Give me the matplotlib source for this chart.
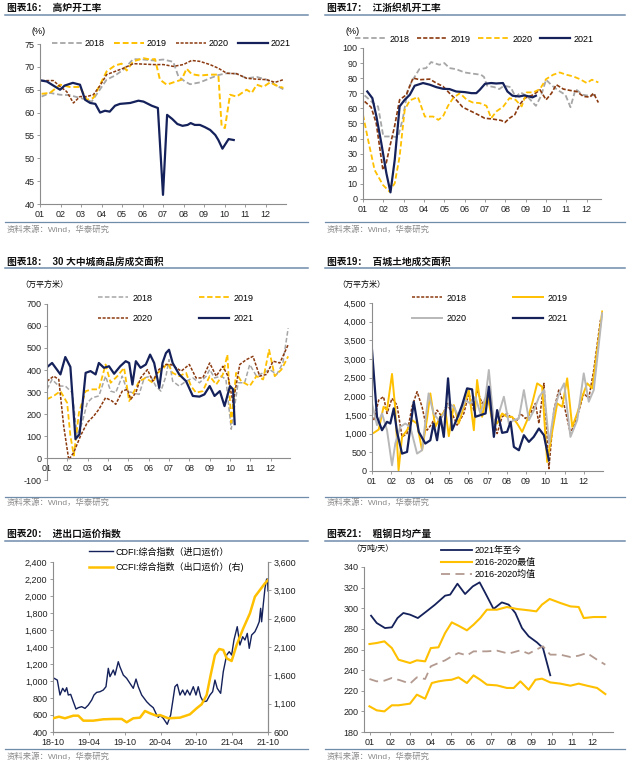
import matplotlib
matplotlib.use("Agg")
import matplotlib.pyplot as plt
from matplotlib.lines import Line2D
from matplotlib.ticker import FuncFormatter

plt.rcParams['font.family'] = ['Liberation Sans', 'Noto Sans CJK SC', 'DejaVu Sans']
plt.rcParams['axes.unicode_minus'] = False

# ---------------- 数据 ----------------
months = ['01', '02', '03', '04', '05', '06', '07', '08', '09', '10', '11', '12']
source = '资料来源：Wind，华泰研究'

# 图表16 高炉开工率 (%)
bf18_x = [1.08, 1.49, 1.98, 2.46, 2.95, 3.28, 3.52, 3.93, 4.25, 4.66, 5.07, 5.55, 6.04, 6.53, 7.02, 7.5, 7.75,
          8.07, 8.32, 8.8, 9.29, 9.7, 10.11, 10.59, 11.08, 11.57, 12.06, 12.54, 12.87]
bf18_y = [63.5, 64.3, 63.9, 63.8, 63.2, 62.8, 62.4, 65.1, 67.2, 68.1, 69.4, 71.7, 71.6, 71.4, 71.6, 71.1, 67.9,
          66.8, 66.2, 66.6, 67.5, 68.2, 68.6, 68.5, 67.5, 67.8, 67.2, 65.9, 65.1]
bf19_x = [1.08, 1.49, 1.98, 2.46, 2.95, 3.28, 3.6, 3.93, 4.25, 4.66, 4.98, 5.23, 5.55, 6.04, 6.37, 6.61, 6.85,
          7.18, 7.5, 7.91, 8.15, 8.4, 8.8, 9.29, 9.7, 9.86, 10.02, 10.27, 10.59, 11.08, 11.33, 11.57, 11.89,
          12.22, 12.54, 12.87]
bf19_y = [64.1, 64.3, 66.1, 65.6, 65.6, 62.8, 63.2, 66.1, 69.0, 70.3, 70.7, 69.2, 71.2, 71.9, 71.6, 71.7, 67.2,
          66.1, 66.6, 67.2, 69.6, 68.4, 68.1, 68.3, 68.3, 57.0, 56.6, 63.9, 63.5, 65.0, 64.3, 66.1, 65.6,
          66.6, 65.9, 65.4]
bf20_x = [1.08, 1.65, 1.98, 2.3, 2.63, 2.95, 3.28, 3.6, 3.93, 4.25, 4.66, 5.07, 5.55, 6.04, 6.53, 7.02, 7.5,
          7.99, 8.4, 8.8, 9.29, 9.7, 10.11, 10.59, 11.08, 11.57, 12.06, 12.46, 12.87]
bf20_y = [67.0, 67.0, 65.7, 64.6, 62.1, 63.5, 63.5, 63.9, 65.9, 68.3, 69.0, 69.7, 70.7, 70.6, 70.5, 70.5, 70.1,
          70.5, 71.4, 71.2, 70.5, 69.7, 68.6, 68.5, 67.5, 67.3, 67.2, 66.6, 67.2]
bf21_x = [1.08, 1.33, 1.98, 2.2, 2.6, 2.95, 3.2, 3.45, 3.7, 3.93, 4.17, 4.4, 4.66, 4.9, 5.4, 5.8, 6.05, 6.45,
          6.75, 7.0, 7.2, 7.45, 7.7, 7.95, 8.2, 8.35, 8.55, 8.8, 9.05, 9.3, 9.55, 9.7, 9.9, 10.2, 10.45]
bf21_y = [67.0, 66.8, 65.0, 65.9, 66.5, 66.1, 62.8, 62.1, 61.9, 60.0, 60.4, 60.2, 61.5, 61.9, 62.1, 62.6, 62.4,
          61.5, 61.0, 42.0, 59.5, 58.6, 57.5, 57.1, 57.3, 57.7, 57.3, 57.3, 56.8, 56.2, 55.1, 54.0, 52.1,
          54.2, 54.0]

# 图表17 江浙织机开工率 (%)
cz18_x = [1.08, 1.5, 1.74, 2.0, 2.4, 2.72, 2.96, 3.2, 3.45, 3.77, 4.1, 4.35, 4.75, 5.0, 5.25, 5.57, 6.0, 6.4,
          6.8, 6.95, 7.1, 7.45, 7.7, 7.93, 8.26, 8.5, 8.75, 9.08, 9.5, 9.74, 10.0, 10.3, 10.6, 10.95, 11.2,
          11.45, 11.8, 12.1, 12.45]
cz18_y = [68.6, 63.5, 61.3, 41.4, 41.4, 40.9, 53.5, 72.3, 79, 86, 86.7, 90.7, 88.9, 90, 86.7, 86, 83.8, 83,
          82.3, 80.8, 75, 74.1, 72.8, 75, 74.1, 67.5, 70.6, 67.9, 61.7, 67.9, 79, 75, 71.9, 69, 60.8,
          72.8, 69, 68.4, 69]
cz19_x = [1.08, 1.4, 1.65, 1.98, 2.14, 2.3, 2.55, 2.8, 3.13, 3.46, 3.79, 4.28, 4.6, 4.93, 5.25, 5.58, 5.9,
          6.33, 6.66, 6.98, 7.4, 7.8, 7.98, 8.2, 8.46, 8.7, 8.95, 9.37, 9.7, 10.0, 10.27, 10.5, 10.85, 11.18,
          11.5, 11.84, 12.16, 12.33, 12.57]
cz19_y = [64.6, 60.8, 50.2, 19.2, 23.7, 33.6, 48, 65.7, 69, 80.1, 79, 79.4, 76.8, 74.6, 70.1, 65.7, 60.8,
          58, 55.8, 53.5, 52.9, 52, 50.7, 53.5, 55.8, 62.4, 66.8, 69, 72.3, 65.7, 70.1, 75.7, 72.8, 71.9,
          71.2, 67.9, 67.5, 70.1, 63.9]
cz20_x = [1.0, 1.25, 1.57, 1.98, 2.3, 2.56, 2.8, 3.05, 3.3, 3.7, 4.04, 4.45, 4.7, 4.93, 5.18, 5.43, 5.76,
          6.1, 6.4, 6.74, 7.07, 7.3, 7.56, 7.9, 8.2, 8.5, 8.8, 9.05, 9.37, 9.7, 10.0, 10.35, 10.67, 11.0,
          11.33, 11.66, 12.0, 12.25, 12.57]
cz20_y = [55.8, 39.2, 19.2, 9.3, 4.9, 10.4, 28.1, 59, 65.3, 67.5, 54.6, 54.6, 52.4, 54.6, 61.7, 66.8, 70.1,
          65.7, 63.9, 63.5, 61.7, 53.5, 58, 61.3, 66.8, 65.7, 61.3, 70.6, 70.6, 72.8, 79.4, 82.3, 83.8, 82.3,
          81.2, 79.4, 76.8, 79, 77.2]
cz21_x = [1.21, 1.46, 1.66, 1.9, 2.15, 2.35, 2.56, 2.8, 3.05, 3.3, 3.54, 3.95, 4.28, 4.6, 4.93, 5.25, 5.58,
          6.0, 6.33, 6.57, 6.74, 7.0, 7.3, 7.55, 7.88, 8.1, 8.35, 8.68, 8.93, 9.17, 9.33, 9.5]
cz21_y = [71.2, 66.8, 54.6, 37, 17, 4.4, 25.9, 61.3, 65.7, 69, 75, 76.8, 75.7, 74.1, 73, 72.8, 71.2,
          70.8, 70.1, 70.1, 72.3, 76.3, 76.8, 76.5, 76.8, 71.2, 68.4, 67.9, 68.6, 67.9, 67.3, 68.4]

# 图表18 30大中城商品房成交面积 (万平方米)
fa18_x = [1.0, 1.25, 1.58, 1.9, 2.24, 2.48, 2.73, 2.98, 3.23, 3.55, 3.88, 4.13, 4.38, 4.7, 4.95, 5.2, 5.53,
          5.78, 6.1, 6.35, 6.6, 6.85, 7.0, 7.18, 7.5, 7.84, 8.17, 8.5, 8.83, 9.0, 9.24, 9.57, 9.8, 10.06,
          10.4, 10.72, 10.97, 11.3, 11.63, 11.95, 12.3, 12.6, 12.86]
fa18_y = [312, 357, 327, 327, 297, 101, 161, 251, 274, 282, 372, 304, 297, 372, 304, 297, 289,
          364, 372, 327, 304, 372, 447, 349, 327, 349, 364, 342, 372, 402, 364, 372, 357, 131,
          342, 342, 425, 372, 387, 402, 380, 432, 590]
fa19_x = [1.0, 1.33, 1.66, 1.99, 2.15, 2.32, 2.57, 2.9, 3.23, 3.55, 3.88, 4.13, 4.46, 4.79, 5.04, 5.29, 5.53,
          5.86, 6.2, 6.44, 6.68, 6.93, 7.18, 7.5, 7.84, 8.08, 8.33, 8.66, 9.0, 9.32, 9.65, 9.87, 10.06,
          10.3, 10.55, 10.97, 11.3, 11.63, 11.92, 12.2, 12.53, 12.86]
fa19_y = [267, 282, 304, 251, 101, 11, 206, 304, 312, 312, 425, 342, 372, 410, 259, 304, 349,
          364, 342, 387, 402, 432, 387, 372, 387, 327, 297, 304, 372, 334, 380, 470, 161,
          387, 349, 327, 372, 357, 492, 372, 402, 462]
fa20_x = [1.0, 1.33, 1.58, 1.82, 2.07, 2.32, 2.65, 2.98, 3.3, 3.55, 3.88, 4.2, 4.38, 4.7, 4.95, 5.12, 5.37,
          5.6, 5.94, 6.2, 6.5, 6.85, 7.1, 7.35, 7.6, 8.0, 8.33, 8.66, 9.0, 9.32, 9.65, 9.9, 10.15, 10.48,
          10.8, 11.13, 11.46, 11.8, 12.12, 12.45, 12.86]
fa20_y = [349, 372, 357, 146, -8, 26, 101, 161, 191, 221, 274, 259, 244, 304, 312, 267, 297,
          364, 402, 349, 402, 425, 425, 410, 395, 425, 364, 364, 432, 372, 417, 372, 251, 425,
          447, 462, 372, 380, 440, 432, 515]
fa21_x = [1.0, 1.25, 1.66, 1.9, 2.15, 2.4, 2.6, 2.9, 3.14, 3.39, 3.55, 3.8, 4.05, 4.3, 4.6, 4.87, 5.04, 5.2,
          5.37, 5.6, 5.86, 6.07, 6.27, 6.52, 6.68, 6.85, 7.0, 7.18, 7.5, 7.84, 8.17, 8.5, 8.74, 9.0, 9.24,
          9.5, 9.73, 10.0, 10.15, 10.23]
fa21_y = [413, 432, 380, 459, 414, 86, 108, 387, 395, 380, 432, 410, 417, 383, 417, 440, 432, 334,
          440, 410, 425, 470, 432, 319, 432, 477, 492, 432, 380, 349, 282, 279, 289, 327, 282,
          304, 236, 327, 312, 154]

# 图表19 百城土地成交面积 (万平方米)
td18_x = [1.09, 1.35, 1.6, 1.78, 2.04, 2.3, 2.56, 2.82, 3.08, 3.34, 3.6, 3.86, 4.12, 4.38, 4.64, 4.9, 5.16,
          5.42, 5.77, 6.03, 6.29, 6.46, 6.72, 6.98, 7.24, 7.5, 7.76, 8.02, 8.28, 8.54, 8.71, 8.97, 9.23,
          9.49, 9.67, 9.93, 10.19, 10.45, 10.7, 10.96, 11.31, 11.66, 12.0, 12.26, 12.52, 12.87]
td18_y = [1362, 1900, 1989, 1541, 1945, 1765, 914, 1003, 1720, 2124, 1720, 1093, 1272, 1631, 1452, 1810, 1541,
          1228, 1541, 2079, 1631, 2168, 1810, 1989, 1541, 1003, 1452, 1541, 1407, 1362, 1541, 1407, 1541,
          1810, 1272, 2348, 63, 1631, 2168, 1810, 1003, 1452, 2079, 1945, 2706, 4050]
td19_x = [1.09, 1.35, 1.6, 1.78, 2.04, 2.2, 2.38, 2.56, 2.82, 3.08, 3.34, 3.6, 3.86, 4.03, 4.29, 4.55, 4.81,
          4.99, 5.25, 5.5, 5.77, 6.03, 6.29, 6.46, 6.72, 6.98, 7.24, 7.5, 7.76, 8.02, 8.28, 8.54, 8.8,
          9.06, 9.32, 9.58, 9.84, 10.1, 10.36, 10.62, 10.88, 11.14, 11.4, 11.66, 11.92, 12.18, 12.44, 12.96]
td19_y = [1022, 1111, 1720, 1631, 2599, 1720, 18, 914, 1093, 1362, 1272, 556, 1407, 2079, 1183, 1452, 1631,
          932, 1765, 1272, 1720, 2168, 1093, 2437, 1452, 2079, 1362, 1272, 1541, 1452, 1452, 1272, 1048,
          1362, 1810, 2348, 2258, 242, 1048, 1810, 1720, 2482, 1183, 1541, 1989, 2348, 2213, 4274]
td20_x = [1.0, 1.26, 1.52, 1.78, 2.04, 2.21, 2.47, 2.73, 2.99, 3.34, 3.6, 3.94, 4.2, 4.47, 4.73, 4.99, 5.25,
          5.5, 5.85, 6.1, 6.37, 6.63, 6.9, 7.07, 7.33, 7.59, 7.85, 8.11, 8.37, 8.63, 8.89, 9.15, 9.42,
          9.68, 9.94, 10.2, 10.46, 10.72, 10.98, 11.31, 11.66, 12.0, 12.26, 12.52, 12.96]
td20_y = [1810, 1228, 1541, 1093, 152, 735, 1183, 1272, 1183, 466, 556, 2079, 1541, 1362, 1541, 1810, 1720,
          1452, 1900, 1810, 1989, 1541, 1989, 2706, 1272, 1541, 1989, 1272, 1362, 1407, 2168, 1362, 1631,
          1989, 2168, 735, 1631, 2079, 2348, 914, 1362, 2616, 1855, 2168, 4229]
td21_x = [1.0, 1.26, 1.52, 1.78, 1.95, 2.13, 2.3, 2.56, 2.82, 3.17, 3.43, 3.77, 4.03, 4.2, 4.38, 4.55, 4.73,
          4.95, 5.16, 5.42, 5.68, 5.94, 6.2, 6.37, 6.63, 6.9, 7.07, 7.33, 7.5, 7.76, 8.02, 8.2, 8.37,
          8.63, 8.89, 9.15, 9.4, 9.67, 9.93, 10.19]
td21_y = [3244, 1452, 1093, 1317, 1272, 1676, 1048, 466, 511, 1855, 1048, 735, 824, 1272, 824, 1452, 914,
          2482, 1093, 1407, 1765, 2213, 2186, 1452, 1496, 1541, 2258, 914, 1631, 1022, 1048, 1317, 645,
          556, 959, 780, 914, 1138, 959, 287]

# 图表20 进出口运价指数 (横轴: 自2018-10起的月数)
freight_ticks = [0, 6, 12, 18, 24, 30, 36]
freight_labels = ['18-10', '19-04', '19-10', '20-04', '20-10', '21-04', '21-10']
cdfi_t = [0, 0.72, 1.17, 1.62, 2.0, 2.29, 2.56, 2.96, 3.4, 3.85, 4.24, 4.8, 5.36, 5.91, 6.48, 6.86,
          7.31, 7.87, 8.42, 8.87, 9.26, 9.54, 10.1, 10.38, 10.93, 11.2, 11.77, 12.34, 12.89, 13.44, 13.9,
          14.28, 14.85, 15.69, 16.24, 16.79, 17.36, 17.63, 17.9, 18.47, 19.13, 19.7, 20.04, 20.42, 20.81,
          21.26, 21.71, 22.1, 22.48, 22.93, 23.49, 23.94, 24.32, 24.72, 25.16, 25.73, 26.28, 26.73, 27.12,
          27.5, 28.07, 28.51, 29.08, 29.51, 29.91, 30.3, 30.85, 31.3, 31.76, 32.14, 32.53, 32.86, 33.26,
          33.81, 34.2, 34.53, 34.77, 34.93, 35.2, 35.49, 35.77, 35.92, 36.0]
cdfi_v = [1039, 1011, 835, 914, 874, 921, 835, 843, 756, 670, 686, 698, 678, 717, 776, 835,
          866, 874, 894, 933, 1149, 1051, 1129, 1070, 1227, 1168, 1070, 1031, 972, 914, 1023,
          933, 835, 756, 717, 686, 600, 572, 600, 561, 490, 600, 756, 933, 961,
          835, 894, 835, 894, 835, 933, 835, 933, 815, 756, 764, 835, 874, 1011,
          914, 855, 1109, 1306, 1345, 1306, 1482, 1639, 1423, 1521, 1482, 1560, 1384, 1541,
          1580, 1639, 1697, 1855, 1697, 1894, 2090, 2199, 2199, 2060]
ccfi_t = [0, 1.0, 2.0, 3.4, 4.24, 5.08, 6.75, 8.42, 10.1, 11.5, 12.34, 13.44, 14.56, 15.4, 16.24, 17.36,
          17.9, 19.3, 21.26, 22.93, 24.05, 24.89, 25.73, 26.4, 27.12, 27.84, 28.51, 29.08, 29.91, 30.75,
          31.86, 32.98, 33.81, 34.65, 35.49, 36.0]
ccfi_v = [842, 870, 842, 888, 888, 800, 800, 824, 830, 830, 771, 842, 853, 971, 930, 886,
          900, 842, 853, 912, 1018, 1089, 1253, 1606, 1959, 2065, 2047, 1900, 1853, 2136,
          2430, 2695, 2988, 3106, 3224, 3282]

# 图表21 粗钢日均产量 (万吨/天)
cs21_x = [1.05, 1.33, 1.74, 2.08, 2.36, 2.65, 2.98, 3.37, 3.8, 4.22, 4.72, 4.97, 5.33, 5.71, 6.09, 6.43,
          6.71, 7.12, 7.53, 7.87, 8.2, 8.53, 8.86, 9.27, 9.57, 9.93]
cs21_y = [292.8, 285.7, 280.8, 281.5, 290.5, 295.4, 293.8, 290.5, 297, 303.5, 312.2, 313.2, 323.8, 313.8,
          321.2, 325.1, 314.8, 299.3, 305.7, 303.5, 295.4, 280.8, 272.8, 266.9, 261.4, 235]
csmax_x = [0.97, 1.33, 1.71, 2.08, 2.41, 2.98, 3.32, 3.73, 4.01, 4.39, 4.72, 5.05, 5.38, 5.8, 6.13, 6.46,
           6.79, 7.29, 7.78, 8.28, 8.86, 9.24, 9.52, 9.9, 10.43, 10.93, 11.34, 11.59, 12.08, 12.66]
csmax_y = [265.3, 266.3, 267.9, 261.4, 250.1, 246.9, 249.5, 248.5, 261.4, 262.1, 276, 286.3, 283.1, 278.6,
           284.1, 290.5, 298.6, 298.6, 301.2, 299.3, 298, 297, 303.5, 309, 305.1, 301.8, 301.2, 290.5,
           291.5, 291.5]
csmin_x = [0.97, 1.33, 1.71, 2.08, 2.41, 2.98, 3.32, 3.73, 4.06, 4.39, 4.72, 5.05, 5.38, 5.8, 6.13, 6.46,
           6.79, 7.29, 7.78, 8.12, 8.45, 8.86, 9.2, 9.52, 9.93, 10.43, 10.93, 11.34, 11.75, 12.25, 12.66]
csmin_y = [204.9, 201, 200, 205.9, 205.9, 207.5, 216.2, 212.3, 227.5, 229.1, 230.1, 230.7, 233, 227.5,
           234.9, 230.7, 225.9, 225.2, 222.7, 222.7, 229.1, 221, 230.7, 231.7, 228.1, 226.9, 224.9,
           226.9, 224.9, 222.7, 216.8]
csavg_x = [0.97, 1.33, 1.71, 2.08, 2.5, 2.98, 3.32, 3.73, 4.01, 4.39, 4.72, 5.05, 5.38, 5.8, 6.13, 6.79,
           7.29, 7.87, 8.45, 8.86, 9.24, 9.57, 9.93, 10.43, 10.93, 11.34, 11.75, 12.25, 12.66]
csavg_y = [231.4, 229.1, 229.8, 232.4, 230.1, 226.9, 233, 231.4, 243.7, 246.9, 249.5, 253.4, 256.6, 254.3,
           258.2, 258.2, 258.9, 256, 259.2, 256, 259.9, 263.1, 255, 255, 252.7, 254, 256.6, 250.1, 245.3]

# ---------------- 样式 ----------------
NAVY = '#14215a'
YELLOW = '#ffc000'
GREY = '#a6a6a6'
BROWN = '#8b3a0f'
ROSE = '#b39a90'
AXC = '#8c8c8c'
RULE = '#6f8cab'
FS = 6.5

W, H = 640, 774
fig = plt.figure(figsize=(W / 100, H / 100), dpi=100)


def px_axes(left, top, right, bottom):
    return fig.add_axes([left / W, 1 - bottom / H, (right - left) / W, (bottom - top) / H])


def fig_text(x, y, s, **kw):
    fig.text(x / W, 1 - y / H, s, va='center', **kw)


def hline(x0, x1, y, lw=1.0):
    fig.add_artist(Line2D([x0 / W, x1 / W], [1 - y / H, 1 - y / H], color=RULE, lw=lw,
                          transform=fig.transFigure))


def frame(x0, x1, y_title, y_rule, y_src_rule, y_src, title):
    fig_text(x0 + 2, y_title, title, fontsize=7, fontweight='bold', color='#111111')
    hline(x0, x1, y_rule, 1.1)
    hline(x0, x1, y_src_rule, 0.9)
    fig_text(x0 + 2, y_src, source, fontsize=6, color='#8a8a8a')


def style(ax, right=False):
    ax.spines['top'].set_visible(False)
    ax.spines['right'].set_visible(right)
    for s in ['left', 'bottom', 'right']:
        ax.spines[s].set_color(AXC)
        ax.spines[s].set_linewidth(0.8)
    ax.tick_params(labelsize=FS, length=2, width=0.6, color=AXC, labelcolor='#222222', pad=2)
    ax.set_facecolor('none')


def month_axis(ax, x0, x1):
    ax.set_xlim(x0, x1)
    ax.set_xticks(range(1, 13))
    ax.set_xticklabels(months)


def legend_at(ax, handles, labels, x, y, ncol, **kw):
    ax.legend(handles, labels, loc='center left', bbox_to_anchor=(x / W, 1 - y / H),
              bbox_transform=fig.transFigure, ncol=ncol, frameon=False, fontsize=FS,
              borderpad=0, borderaxespad=0, **kw)


comma = FuncFormatter(lambda v, p: f'{v:,.0f}')

# ---------- 图表16 ----------
frame(5, 308, 8, 15, 222, 230, '图表16：  高炉开工率')
ax = px_axes(40, 44, 286, 204)
style(ax)
h1, = ax.plot(bf18_x, bf18_y, color=GREY, lw=1.3, dashes=(3, 1.5))
h2, = ax.plot(bf19_x, bf19_y, color=YELLOW, lw=1.4, dashes=(3, 1.5))
h3, = ax.plot(bf20_x, bf20_y, color=BROWN, lw=1.1, dashes=(2, 1))
h4, = ax.plot(bf21_x, bf21_y, color=NAVY, lw=1.6)
month_axis(ax, 1, 13)
ax.set_ylim(40, 75)
ax.set_yticks(range(40, 76, 5))
fig_text(31, 31, '(%)', fontsize=FS)
legend_at(ax, [h1, h2, h3, h4], ['2018', '2019', '2020', '2021'], 52, 44, 4,
          handlelength=3.3, handletextpad=0.35, columnspacing=1.0)

# ---------- 图表17 ----------
frame(325, 625, 8, 15, 222, 230, '图表17：  江浙织机开工率')
ax = px_axes(363, 48, 601, 199)
style(ax)
h1, = ax.plot(cz18_x, cz18_y, color=GREY, lw=1.3, dashes=(3, 1.5))
h2, = ax.plot(cz19_x, cz19_y, color=BROWN, lw=1.2, dashes=(2.5, 1.2))
h3, = ax.plot(cz20_x, cz20_y, color=YELLOW, lw=1.3, dashes=(3, 1.5))
h4, = ax.plot(cz21_x, cz21_y, color=NAVY, lw=1.6)
month_axis(ax, 1, 12.7)
ax.set_ylim(0, 100)
ax.set_yticks(range(0, 101, 10))
fig_text(346, 31, '(%)', fontsize=FS)
legend_at(ax, [h1, h2, h3, h4], ['2018', '2019', '2020', '2021'], 355, 39, 4,
          handlelength=3.4, handletextpad=0.4, columnspacing=0.8)

# ---------- 图表18 ----------
frame(5, 308, 262, 268, 497, 503, '图表18：  30 大中城商品房成交面积')
ax = px_axes(47, 304, 290, 480)
style(ax)
h1, = ax.plot(fa18_x, fa18_y, color=GREY, lw=1.1, dashes=(3, 1.5))
h2, = ax.plot(fa19_x, fa19_y, color=YELLOW, lw=1.3, dashes=(3, 1.5))
h3, = ax.plot(fa20_x, fa20_y, color=BROWN, lw=1.1, dashes=(2, 1))
h4, = ax.plot(fa21_x, fa21_y, color=NAVY, lw=1.6)
month_axis(ax, 1, 12.95)
ax.set_ylim(-100, 700)
ax.set_yticks(range(-100, 701, 100))
ax.spines['bottom'].set_position(('data', 0))
fig_text(20, 285, '（万平方米）', fontsize=5.8)
legend_at(ax, [h1, h3, h2, h4], ['2018', '2020', '2019', '2021'], 98, 308.5, 2,
          handlelength=3.3, handletextpad=0.5, columnspacing=5.2, labelspacing=1.3)

# ---------- 图表19 ----------
frame(325, 625, 262, 268, 497, 503, '图表19：  百城土地成交面积')
ax = px_axes(372, 303, 603, 471)
style(ax)
h1, = ax.plot(td18_x, td18_y, color=BROWN, lw=1.1, dashes=(2, 1))
h2, = ax.plot(td19_x, td19_y, color=YELLOW, lw=1.4)
h3, = ax.plot(td20_x, td20_y, color='#b8b8b8', lw=1.4)
h4, = ax.plot(td21_x, td21_y, color=NAVY, lw=1.6)
month_axis(ax, 1, 13)
ax.set_ylim(0, 4500)
ax.set_yticks(range(0, 4501, 500))
ax.yaxis.set_major_formatter(comma)
fig_text(337, 285, '（万平方米）', fontsize=5.8)
legend_at(ax, [h1, h3, h2, h4], ['2018', '2020', '2019', '2021'], 412, 308.5, 2,
          handlelength=3.3, handletextpad=0.5, columnspacing=5.2, labelspacing=1.3)

# ---------- 图表20 ----------
frame(5, 308, 534, 541, 749, 757, '图表20：  进出口运价指数')
ax = px_axes(53, 562, 268, 732)
style(ax, right=True)
h1, = ax.plot(cdfi_t, cdfi_v, color=NAVY, lw=1.0)
ax.set_xlim(0, 36)
ax.set_xticks(freight_ticks)
ax.set_xticklabels(freight_labels)
ax.set_ylim(400, 2400)
ax.set_yticks(range(400, 2401, 200))
ax.yaxis.set_major_formatter(comma)
ax2 = ax.twinx()
style(ax2, right=True)
ax2.spines['left'].set_visible(False)
h2, = ax2.plot(ccfi_t, ccfi_v, color=YELLOW, lw=1.8)
ax2.set_ylim(600, 3600)
ax2.set_yticks(range(600, 3601, 500))
ax2.yaxis.set_major_formatter(comma)
legend_at(ax2, [h1, h2], ['CDFI:综合指数（进口运价）', 'CCFI:综合指数（出口运价）(右)'], 89, 559.5, 1,
          handlelength=2.7, handletextpad=0.2, labelspacing=0.6)

# ---------- 图表21 ----------
frame(325, 625, 534, 541, 749, 757, '图表21：  粗钢日均产量')
ax = px_axes(364, 567, 613, 732)
style(ax)
h1, = ax.plot(cs21_x, cs21_y, color=NAVY, lw=1.3)
h2, = ax.plot(csmax_x, csmax_y, color=YELLOW, lw=1.5)
ax.plot(csmin_x, csmin_y, color=YELLOW, lw=1.5)
h3, = ax.plot(csavg_x, csavg_y, color=ROSE, lw=1.3, dashes=(5, 3))
month_axis(ax, 0.7, 13.04)
ax.set_ylim(180, 340)
ax.set_yticks(range(180, 341, 20))
fig_text(351, 549, '（万吨/天）', fontsize=5.8)
legend_at(ax, [h1, h2, h3], ['2021年至今', '2016-2020最值', '2016-2020均值'], 441, 562.5, 1,
          handlelength=3.4, handletextpad=0.3, labelspacing=0.3)

fig.savefig('out.png', dpi=100)
